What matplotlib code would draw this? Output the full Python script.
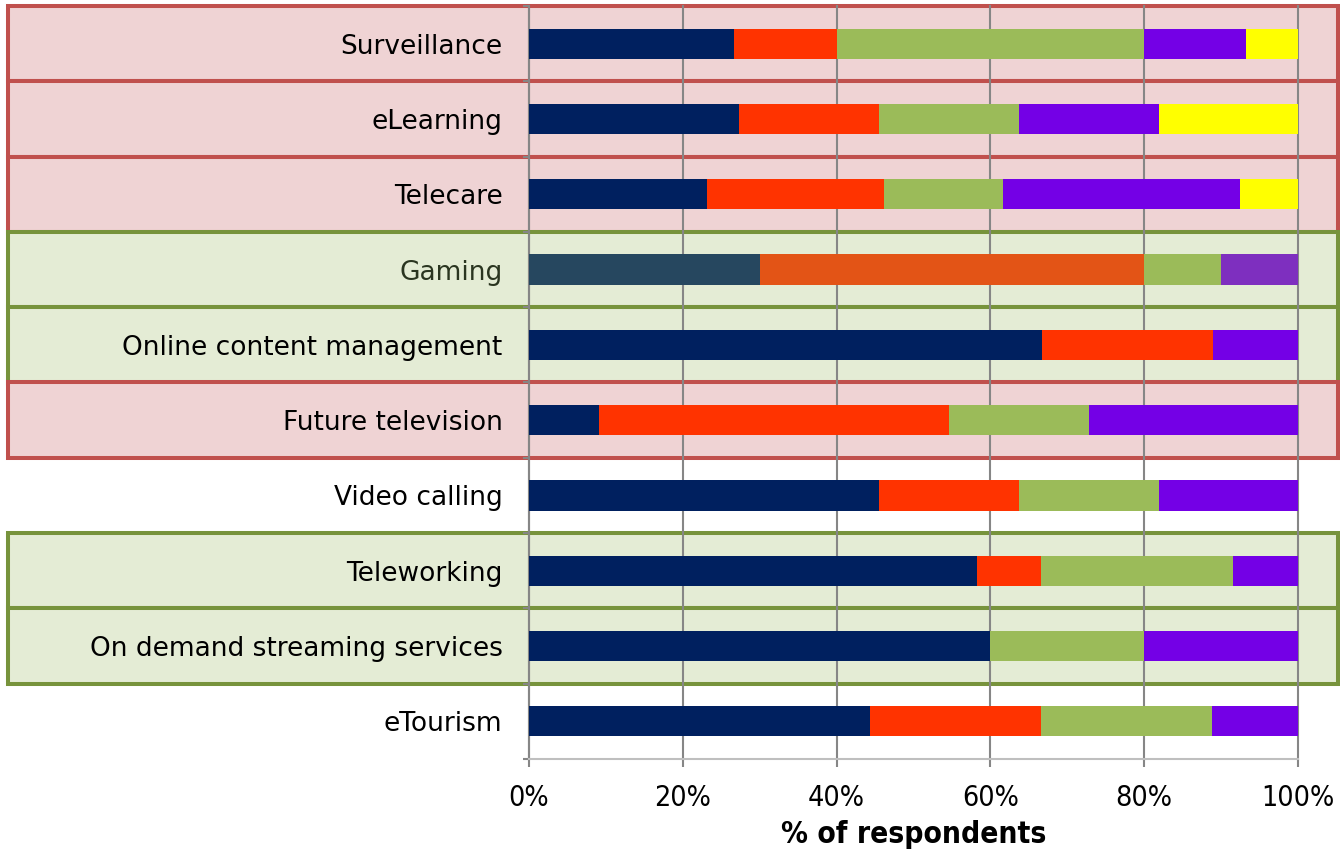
import matplotlib
matplotlib.use("Agg")
import matplotlib.pyplot as plt
from matplotlib.patches import Rectangle
from matplotlib.transforms import blended_transform_factory
import numpy as np

# Services, listed top to bottom
services = [
    "Surveillance",
    "eLearning",
    "Telecare",
    "Gaming",
    "Online content management",
    "Future television",
    "Video calling",
    "Teleworking",
    "On demand streaming services",
    "eTourism",
]

# Share of respondents (%) in each answer group, per service
seg1 = [26.7, 27.3, 23.1, 30.0, 66.7, 9.1, 45.5, 58.3, 60.0, 44.4]
seg2 = [13.3, 18.2, 23.1, 50.0, 22.2, 45.5, 18.2, 8.3, 0.0, 22.2]
seg3 = [40.0, 18.2, 15.4, 10.0, 0.0, 18.2, 18.2, 25.0, 20.0, 22.2]
seg4 = [13.3, 18.2, 30.8, 10.0, 11.1, 27.2, 18.1, 8.4, 20.0, 11.2]
seg5 = [6.7, 18.1, 7.6, 0.0, 0.0, 0.0, 0.0, 0.0, 0.0, 0.0]

# Row highlight: "red", "green" or None
highlight = ["red", "red", "red", "green", "green", "red", None, "green", "green", None]

x_ticks = [0, 20, 40, 60, 80, 100]
x_ticklabels = ["0%", "20%", "40%", "60%", "80%", "100%"]
x_title = "% of respondents"

seg_colors = ["#00205F", "#FF3300", "#9BBB59", "#7400E6", "#FFFF00"]
gaming_colors = ["#26475F", "#E35416", "#9BBB59", "#7E2FBF", "#FFFF00"]
box_style = {
    "red": ("#C0504D", "#EFD3D4"),
    "green": ("#77933C", "#E4ECD5"),
}

fig = plt.figure(figsize=(13.4, 8.5), dpi=100)
ax = fig.add_axes([529 / 1340, 1 - 759 / 850, (1298 - 529) / 1340, (759 - 6) / 850])

n = len(services)
ypos = np.arange(n)
segments = [seg1, seg2, seg3, seg4, seg5]
left = np.zeros(n)
for k, seg in enumerate(segments):
    vals = np.array(seg, dtype=float)
    cols = [gaming_colors[k] if s == "Gaming" else seg_colors[k] for s in services]
    ax.barh(ypos, vals, left=left, height=0.4, color=cols, edgecolor="none", zorder=3)
    left += vals

ax.set_xlim(0, 100)
ax.set_ylim(n - 0.5, -0.5)

# Highlight boxes spanning the whole row across the figure
trans = blended_transform_factory(fig.transFigure, ax.transData)
for i, h in enumerate(highlight):
    if h is None:
        continue
    ec, fc = box_style[h]
    rect = Rectangle((8 / 1340, i - 0.5), (1338 - 8) / 1340, 1.0, transform=trans,
                     facecolor=fc, edgecolor=ec, linewidth=2.9, zorder=0.1,
                     clip_on=False)
    ax.add_artist(rect)

ax.set_axisbelow(True)
ax.grid(axis="x", color="#868686", linewidth=1.5, zorder=0.5)
for gl in ax.get_xgridlines():
    gl.set_clip_on(False)
ax.set_xticks(x_ticks)
ax.set_xticklabels(x_ticklabels, fontsize=20.5, fontstretch="condensed")
ax.tick_params(axis="x", length=6, width=1.5, color="#868686", direction="out", pad=12)

ax.set_yticks(ypos)
ax.set_yticklabels(services, fontsize=19)
ax.set_yticks(np.arange(n + 1) - 0.5, minor=True)
ax.tick_params(axis="y", which="major", length=0, pad=19)
ax.tick_params(axis="y", which="minor", length=4, width=1.5, color="#868686")
for lbl, s in zip(ax.get_yticklabels(), services):
    if s == "Gaming":
        lbl.set_color("#2A3520")

for side in ["top", "right"]:
    ax.spines[side].set_visible(False)
ax.spines["left"].set_color("#868686")
ax.spines["left"].set_linewidth(1.5)
ax.spines["bottom"].set_color("#BFBFBF")
ax.spines["bottom"].set_linewidth(1.5)
ax.patch.set_alpha(0)

ax.set_xlabel(x_title, fontsize=21.5, fontweight="bold", fontstretch="condensed", labelpad=6)

fig.savefig("out.png", dpi=100)
